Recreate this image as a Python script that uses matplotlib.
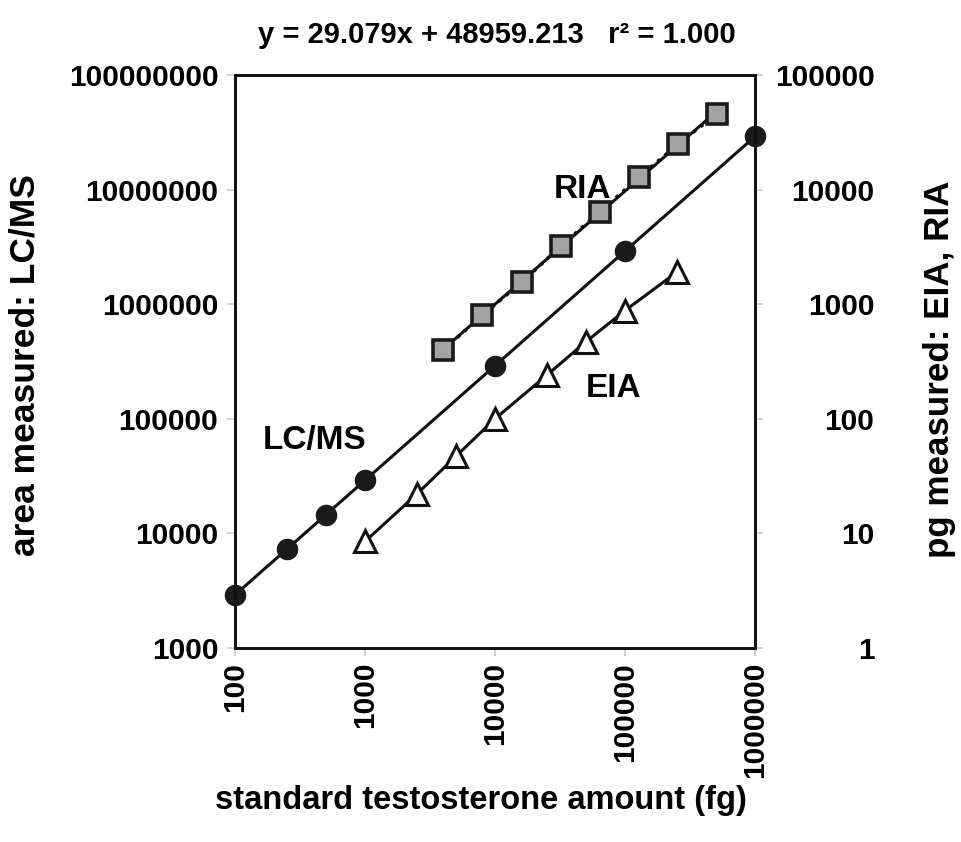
import numpy as np
import matplotlib
matplotlib.use("Agg")
import matplotlib.pyplot as plt
from matplotlib.ticker import FixedLocator, NullLocator

plt.rcParams['font.family'] = ['Liberation Sans', 'DejaVu Sans']
plt.rcParams['font.weight'] = 'bold'

# LC/MS: area measured (left axis)
lcms_fg = [100, 250, 500, 1000, 10000, 100000, 1000000]
lcms_area = [2908, 7270, 14540, 29079, 290790, 2907900, 29079000]

# EIA: pg measured (right axis)
eia_fg = [1000, 2500, 5000, 10000, 25000, 50000, 100000, 250000]
eia_pg = [8.5, 22, 47, 100, 240, 470, 880, 1900]

# RIA: pg measured (right axis)
ria_fg = [4000, 8000, 16000, 32000, 64000, 128000, 256000, 512000]
ria_pg = [400, 800, 1550, 3200, 6400, 12800, 25000, 46000]

x_ticks = [100, 1000, 10000, 100000, 1000000]
left_ticks = [1000, 10000, 100000, 1000000, 10000000, 100000000]
right_ticks = [1, 10, 100, 1000, 10000, 100000]

fig = plt.figure(figsize=(9.62, 8.42), dpi=100)
ax = fig.add_axes([235/962, 1 - 648/842, 520/962, 573/842])
ax2 = ax.twinx()

tick_gray = '#c8c8c8'

# LC/MS
ax.plot(lcms_fg, lcms_area, '-', color='#111111', lw=2.2, zorder=3)
ax.plot(lcms_fg, lcms_area, 'o', ms=14.5, mfc='#1a1a1a', mec='#1a1a1a', zorder=4, clip_on=False)

# RIA: dotted line through data, solid fit line
ax2.plot(ria_fg, ria_pg, ':', color='#111111', lw=2.5, zorder=3)
k, b = np.polyfit(np.log10(ria_fg), np.log10(ria_pg), 1)
xf = np.array([ria_fg[0], ria_fg[-1]])
ax2.plot(xf, 10 ** (k * np.log10(xf) + b), '-', color='#111111', lw=2.2, zorder=3)
ax2.plot(ria_fg, ria_pg, 's', ms=15, mfc='#a3a3a3', mec='#1a1a1a', mew=2.6, zorder=4)

# EIA
ax2.plot(eia_fg, eia_pg, '-', color='#111111', lw=2.2, zorder=3)
ax2.plot(eia_fg, eia_pg, '^', ms=16, mfc='white', mec='#111111', mew=2.2, zorder=4)

for a in (ax, ax2):
    a.set_xscale('log')
    a.set_yscale('log')
    a.set_xlim(100, 1000000)
ax.set_ylim(1000, 100000000)
ax2.set_ylim(1, 100000)

ax.xaxis.set_major_locator(FixedLocator(x_ticks))
ax.xaxis.set_minor_locator(NullLocator())
ax.set_xticklabels([str(v) for v in x_ticks], rotation=90, fontsize=21.5, fontweight='bold')

ax.yaxis.set_major_locator(FixedLocator(left_ticks))
ax.yaxis.set_minor_locator(NullLocator())
ax.set_yticklabels([str(v) for v in left_ticks], fontsize=21.5, fontweight='bold')

ax2.yaxis.set_major_locator(FixedLocator(right_ticks))
ax2.yaxis.set_minor_locator(NullLocator())
ax2.set_yticklabels([str(v) for v in right_ticks], fontsize=21.5, fontweight='bold', ha='right')

ax.tick_params(axis='x', direction='out', length=6, width=1.2, color=tick_gray, pad=4)
ax.tick_params(axis='y', direction='out', length=6, width=1.2, color=tick_gray, pad=6)
ax2.tick_params(axis='y', direction='out', length=6, width=1.2, color=tick_gray, pad=80)

for a in (ax, ax2):
    for s in a.spines.values():
        s.set_linewidth(2)
        s.set_color('#111111')

ax.text(47500, 10000000, 'RIA', fontsize=24, fontweight='bold', ha='center', va='center', zorder=5)
ax.text(412, 65000, 'LC/MS', fontsize=24, fontweight='bold', ha='center', va='center', zorder=5)
ax.text(81000, 185000, 'EIA', fontsize=24, fontweight='bold', ha='center', va='center', zorder=5)

fig.text(497/962, 1 - 35/842, 'y = 29.079x + 48959.213   r² = 1.000',
         fontsize=21, fontweight='bold', ha='center', va='center')
fig.text(25/962, 1 - 365/842, 'area measured: LC/MS', fontsize=25.5, fontweight='bold',
         rotation=90, ha='center', va='center')
fig.text(940/962, 1 - 369/842, 'pg measured: EIA, RIA', fontsize=25.2, fontweight='bold',
         rotation=90, ha='center', va='center')
fig.text(481/962, 1 - 800/842, 'standard testosterone amount (fg)', fontsize=23.5,
         fontweight='bold', ha='center', va='center')

fig.savefig('out.png', dpi=100)
